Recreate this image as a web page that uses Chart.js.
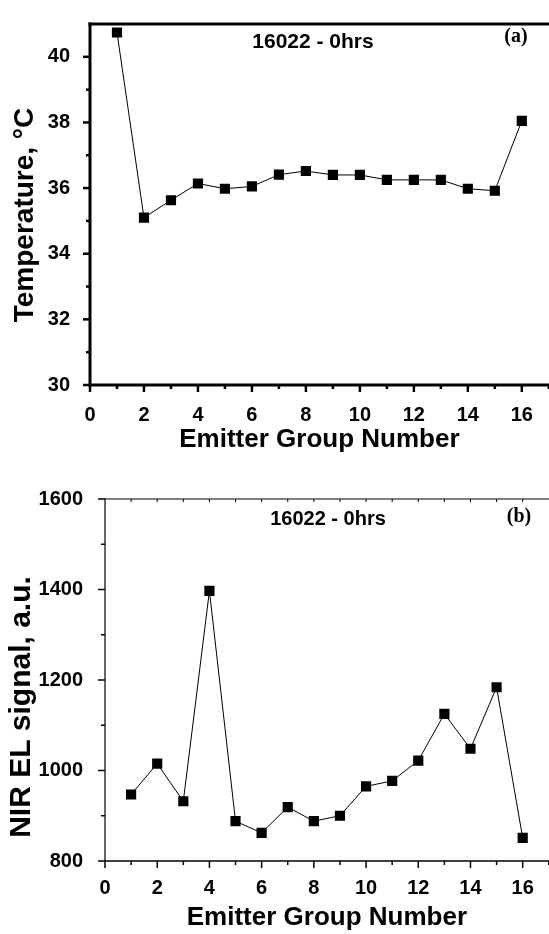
<!DOCTYPE html>
<html>
<head>
<meta charset="utf-8">
<script src="https://cdn.jsdelivr.net/npm/chart.js@4.4.0/dist/chart.umd.min.js"></script>
<style>
html, body { margin: 0; padding: 0; background: #fff; overflow: hidden; width: 549px; height: 934px; }
canvas { position: absolute; left: 0; }
#chartA { top: 0; }
#chartB { top: 460px; }
</style>
</head>
<body>
<canvas id="chartA" width="556" height="460"></canvas>
<canvas id="chartB" width="556" height="474"></canvas>
<script>
// emitter groups along x
let groups = [1, 2, 3, 4, 5, 6, 7, 8, 9, 10, 11, 12, 13, 14, 15, 16];
let groupTicks = [0, 2, 4, 6, 8, 10, 12, 14, 16];
let groupMinor = [1, 3, 5, 7, 9, 11, 13, 15, 17];

// (a) temperature, deg C
let temperature = [40.74, 35.10, 35.63, 36.14, 35.98, 36.05, 36.41, 36.52, 36.40, 36.40, 36.25, 36.25, 36.25, 35.98, 35.92, 38.05];
let tempTicks = [30, 32, 34, 36, 38, 40];
let tempMinor = [31, 33, 35, 37, 39];

// (b) NIR EL signal, a.u.
let nirSignal = [947, 1015, 932, 1397, 888, 862, 919, 888, 900, 965, 977, 1022, 1125, 1048, 1184, 851];
let nirTicks = [800, 1000, 1200, 1400, 1600];
let nirMinor = [900, 1100, 1300, 1500];

const SANS = "'Liberation Sans', Arial, sans-serif";
const SERIF = "'Liberation Serif', 'Times New Roman', serif";

// frame, outward ticks, minor ticks and text labels
const decor = {
    id: 'decor',
    afterDraw(chart, args, o) {
        const ctx = chart.ctx;
        const a = chart.chartArea;
        const xs = chart.scales.x, ys = chart.scales.y;
        ctx.save();
        ctx.strokeStyle = '#000';
        ctx.fillStyle = '#000';

        const seg = (x1, y1, x2, y2, w) => {
            ctx.lineWidth = w;
            ctx.beginPath();
            ctx.moveTo(x1, y1);
            ctx.lineTo(x2, y2);
            ctx.stroke();
        };

        // y ticks
        ys.ticks.forEach(t => {
            const py = ys.getPixelForValue(t.value);
            seg(a.left - o.major, py, a.left, py, o.tickW);
        });
        o.minorY.forEach(v => {
            const py = ys.getPixelForValue(v);
            seg(a.left - o.minor, py, a.left, py, o.tickW);
        });
        // x ticks
        xs.ticks.forEach(t => {
            const px = xs.getPixelForValue(t.value);
            seg(px, a.bottom, px, a.bottom + o.major, o.tickW);
        });
        o.minorX.forEach(v => {
            const px = xs.getPixelForValue(v);
            seg(px, a.bottom, px, a.bottom + o.minor, o.tickW);
        });
        if (o.topTicks) {
            groups.forEach(v => {
                const px = xs.getPixelForValue(v);
                seg(px, a.top, px, a.top + 3, 1);
            });
        }

        // frame (right side is cut off in the original)
        const f = o.frame;
        seg(a.left - f.left / 2, a.top, a.right + 10, a.top, f.top);
        seg(a.left, a.top - f.top / 2, a.left, a.bottom + f.bottom / 2, f.left);
        seg(a.left - f.left / 2, a.bottom, a.right + 10, a.bottom, f.bottom);

        // text
        ctx.textAlign = 'center';
        ctx.textBaseline = 'middle';
        o.labels.forEach(l => {
            ctx.font = l.font;
            ctx.save();
            ctx.translate(l.x, l.y);
            if (l.rot) ctx.rotate(l.rot);
            ctx.fillText(l.text, 0, 0);
            ctx.restore();
        });
        ctx.restore();
    }
};

function makeChart(id, values, yMin, yMax, yTicks, cfg) {
    const ctx = document.getElementById(id).getContext('2d');
    return new Chart(ctx, {
        type: 'line',
        data: {
            datasets: [{
                data: groups.map((g, i) => ({ x: g, y: values[i] })),
                borderColor: '#000',
                borderWidth: 1,
                backgroundColor: '#000',
                pointStyle: 'rect',
                pointRadius: 7.2,
                pointBorderWidth: 0,
                pointBackgroundColor: '#000',
                tension: 0
            }]
        },
        options: {
            responsive: false,
            animation: false,
            layout: { padding: cfg.padding },
            plugins: {
                legend: { display: false },
                tooltip: { enabled: false },
                decor: cfg.decor
            },
            scales: {
                x: {
                    type: 'linear',
                    min: 0,
                    max: 17,
                    afterBuildTicks: s => { s.ticks = groupTicks.map(v => ({ value: v })); },
                    afterFit: s => { s.height = cfg.xHeight; },
                    grid: { display: false },
                    border: { display: false },
                    ticks: {
                        color: '#000',
                        padding: cfg.xPad,
                        maxRotation: 0,
                        callback: v => String(v),
                        font: { family: SANS, size: 20, weight: 'bold' }
                    },
                    title: {
                        display: true,
                        text: 'Emitter Group Number',
                        color: '#000',
                        padding: { top: 0, bottom: cfg.titlePad },
                        font: { family: SANS, size: 26, weight: 'bold' }
                    }
                },
                y: {
                    min: yMin,
                    max: yMax,
                    afterBuildTicks: s => { s.ticks = yTicks.map(v => ({ value: v })); },
                    afterFit: s => { s.width = cfg.yWidth; },
                    grid: { display: false },
                    border: { display: false },
                    ticks: {
                        color: '#000',
                        padding: cfg.yPad,
                        callback: v => String(v),
                        font: { family: SANS, size: 20, weight: 'bold' }
                    }
                }
            }
        },
        plugins: [decor]
    });
}

makeChart('chartA', temperature, 30, 41, tempTicks, {
    padding: { top: 14, right: 5, left: 0, bottom: 0 },
    xHeight: 75,
    yWidth: 90,
    xPad: 10,
    yPad: 12,
    titlePad: 5,
    decor: {
        frame: { top: 3, left: 3, bottom: 3 },
        major: 7, minor: 4, tickW: 2.5,
        minorX: groupMinor, minorY: tempMinor,
        topTicks: false,
        labels: [
            { text: '16022 - 0hrs', x: 313, y: 42, font: 'bold 21px ' + SANS },
            { text: '(a)', x: 516, y: 37, font: 'bold 20px ' + SERIF },
            { text: 'Temperature, \u00B0C', x: 25, y: 215, rot: -Math.PI / 2, font: 'bold 28px ' + SANS }
        ]
    }
});

makeChart('chartB', nirSignal, 800, 1600, nirTicks, {
    padding: { top: 39, right: 6, left: 0, bottom: 0 },
    xHeight: 73,
    yWidth: 105,
    xPad: 7,
    yPad: 14,
    titlePad: 1,
    decor: {
        frame: { top: 1, left: 1.2, bottom: 1.6 },
        major: 7, minor: 4, tickW: 1.5,
        minorX: groupMinor, minorY: nirMinor,
        topTicks: true,
        labels: [
            { text: '16022 - 0hrs', x: 328, y: 59, font: 'bold 20px ' + SANS },
            { text: '(b)', x: 519, y: 57, font: 'bold 20px ' + SERIF },
            { text: 'NIR EL signal, a.u.', x: 22, y: 247, rot: -Math.PI / 2, font: 'bold 30px ' + SANS }
        ]
    }
});
</script>
</body>
</html>
